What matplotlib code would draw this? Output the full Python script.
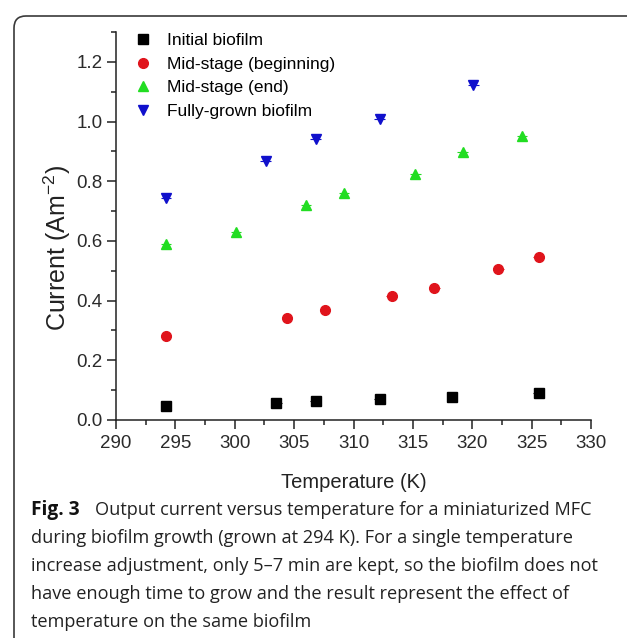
import numpy as np
import matplotlib.pyplot as plt
from matplotlib.patches import FancyBboxPatch
plt.rcParams['mathtext.fontset'] = 'custom'
plt.rcParams['mathtext.rm'] = 'Liberation Sans'
plt.rcParams['mathtext.default'] = 'regular'

# 数据
t_init = [294.2, 303.5, 306.8, 312.2, 318.3, 325.6]
i_init = [0.046, 0.056, 0.063, 0.070, 0.078, 0.089]
t_mid_b = [294.2, 304.4, 307.6, 313.2, 316.8, 322.2, 325.6]
i_mid_b = [0.281, 0.341, 0.368, 0.414, 0.441, 0.505, 0.545]
t_mid_e = [294.2, 300.1, 306.0, 309.2, 315.2, 319.2, 324.2]
i_mid_e = [0.590, 0.630, 0.720, 0.762, 0.823, 0.897, 0.953]
t_full = [294.2, 302.6, 306.8, 312.2, 320.1]
i_full = [0.745, 0.869, 0.940, 1.008, 1.124]
labels = ['Initial biofilm', 'Mid-stage (beginning)', 'Mid-stage (end)', 'Fully-grown biofilm']

W, H = 627, 638
arial = ['Liberation Sans', 'DejaVu Sans']

fig = plt.figure(figsize=(W/100, H/100), dpi=100)
# 圆角边框
box = FancyBboxPatch((14/W, -0.1), 1.0, 1 - 16/H + 0.1,
                     boxstyle='round,pad=0,rounding_size=0.019',
                     transform=fig.transFigure, fill=False,
                     edgecolor='#3a3a3a', linewidth=1.2)
fig.patches.append(box)

ax = fig.add_axes([116/W, 1 - 420/H, 475/W, 388/H])
series = [(t_init, i_init, 's', 'black', 6.5),
          (t_mid_b, i_mid_b, 'o', '#e0141c', 7),
          (t_mid_e, i_mid_e, '^', '#22dd22', 7.5),
          (t_full, i_full, 'v', '#1010cc', 7.5)]
for (x, y, m, c, ms), lab in zip(series, labels):
    ax.errorbar(x, y, xerr=0.45, linestyle='none', ecolor=c, elinewidth=0.8, capsize=0)
    ax.plot(x, y, linestyle='none', marker=m, color=c, markersize=ms, label=lab)

ax.set_xlim(290, 330)
ax.set_ylim(0, 1.3)
ax.set_xticks(np.arange(290, 331, 5))
ax.set_xticks(np.arange(290, 331, 2.5), minor=True)
ax.set_yticks(np.arange(0, 1.21, 0.2))
ax.set_yticks(np.arange(0, 1.31, 0.1), minor=True)
ax.yaxis.set_major_formatter(plt.FormatStrFormatter('%.1f'))
ax.spines['top'].set_visible(False)
ax.spines['right'].set_visible(False)
for s in ['left', 'bottom']:
    ax.spines[s].set_linewidth(1.1)
    ax.spines[s].set_color('#222222')
ax.tick_params(which='major', direction='out', length=6.5, width=1.1, color='#222222')
ax.tick_params(which='minor', direction='out', length=3.5, width=1.1, color='#222222')
ax.tick_params(axis='x', which='major', pad=4)
ax.tick_params(axis='y', which='major', pad=3)
for lab in ax.get_xticklabels() + ax.get_yticklabels():
    lab.set_family(arial)
    lab.set_fontsize(13.5)
    lab.set_color('#2a2a2a')

ax.set_xlabel('Temperature (K)', family=arial, fontsize=14.5, color='#222222')
ax.xaxis.set_label_coords(0.5, -(482 - 420) / 388)
ax.xaxis.label.set_va('center')
ax.set_ylabel('Current (Am$^{-2}$)', family=arial, fontsize=18, color='#222222')
ax.yaxis.set_label_coords(-(116 - 57) / 475, (420 - 248) / 388)
ax.yaxis.label.set_va('center')

ax.legend(loc='upper left', frameon=False, prop={'family': arial, 'size': 12.5},
          bbox_to_anchor=(134/W, 1 - 33/H), bbox_transform=fig.transFigure,
          borderaxespad=0, borderpad=0, handletextpad=0.9, labelspacing=0.48,
          handlelength=1.0, markerscale=1.0)

# 图注
cap_font = 'Open Sans'
fs = 13.1
y0, dy = 510, 28
fig.text(31/W, 1 - y0/H, 'Fig. 3', fontsize=13.8, va='center', weight='bold',
         family=cap_font, color='#111111')
fig.text(95/W, 1 - y0/H, 'Output current versus temperature for a miniaturized MFC',
         fontsize=fs, va='center', family=cap_font, color='#222222')
cap = ['during biofilm growth (grown at 294 K). For a single temperature',
       'increase adjustment, only 5\u20137 min are kept, so the biofilm does not',
       'have enough time to grow and the result represent the effect of',
       'temperature on the same biofilm']
for k, line in enumerate(cap):
    fig.text(31/W, 1 - (y0 + dy*(k + 1))/H, line, fontsize=fs, va='center',
             family=cap_font, color='#222222')

fig.savefig('out.png', dpi=100)
